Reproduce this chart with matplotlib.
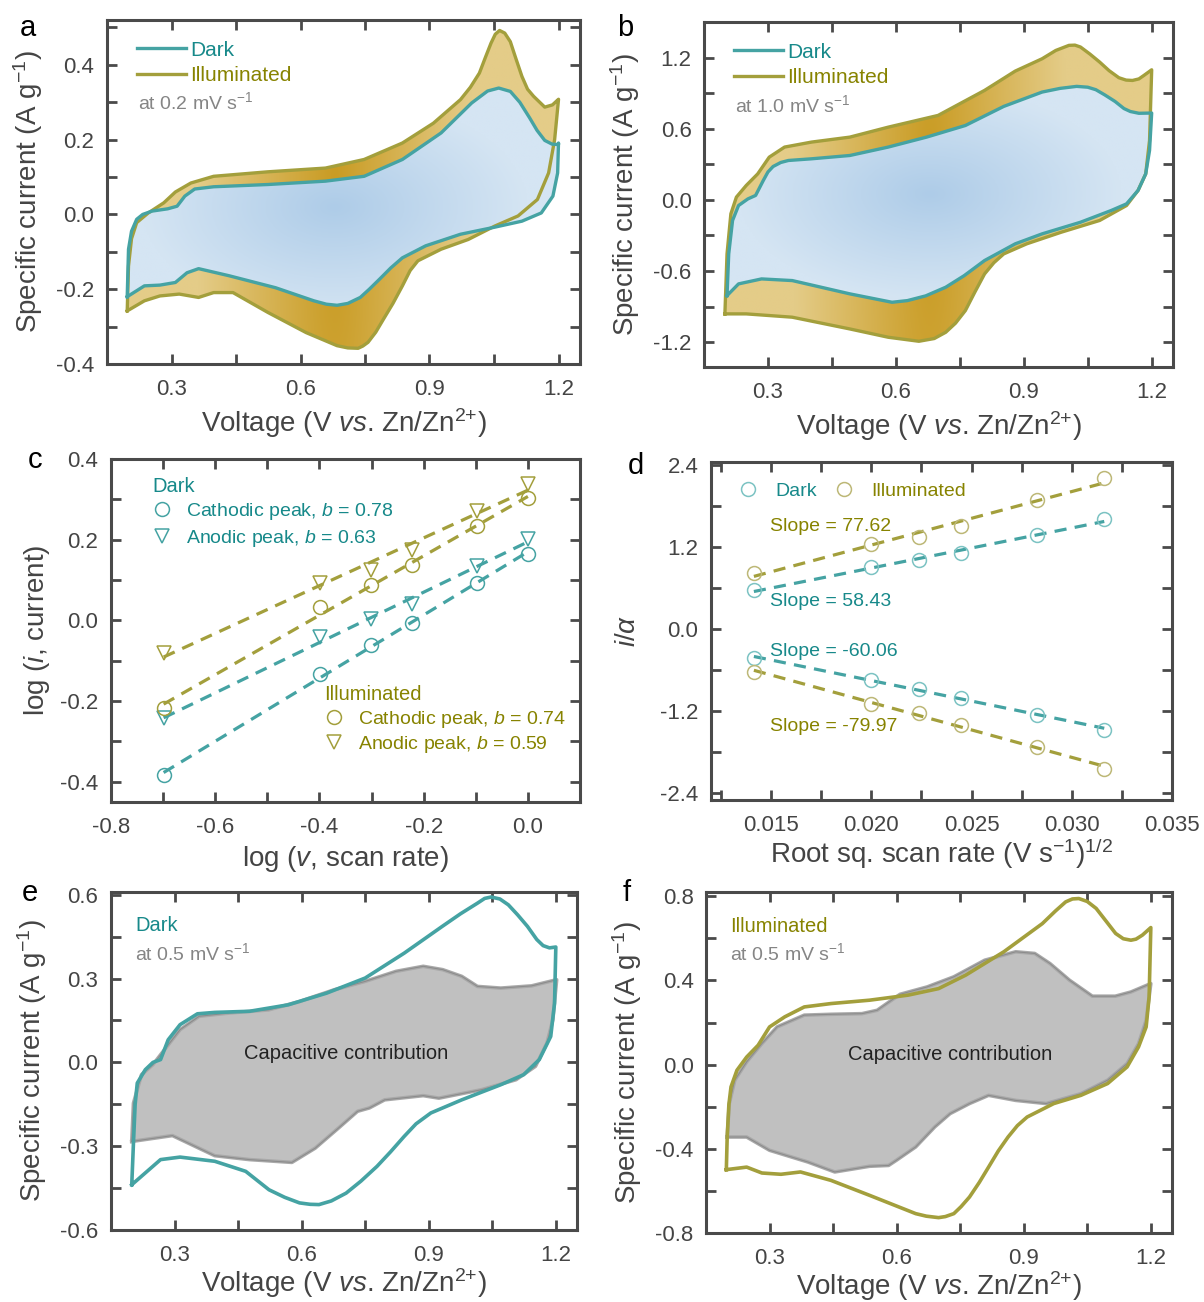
import numpy as np
import matplotlib
matplotlib.use('Agg')
import matplotlib.pyplot as plt
from matplotlib.patches import Polygon
from matplotlib.colors import LinearSegmentedColormap
from matplotlib.ticker import MultipleLocator, FormatStrFormatter
from matplotlib.lines import Line2D

plt.rcParams['font.family'] = ['Liberation Sans', 'DejaVu Sans']
plt.rcParams['mathtext.fontset'] = 'custom'
plt.rcParams['mathtext.rm'] = 'Liberation Sans'
plt.rcParams['mathtext.it'] = 'Liberation Sans:italic'
plt.rcParams['mathtext.bf'] = 'Liberation Sans:bold'
plt.rcParams['mathtext.sf'] = 'Liberation Sans'
plt.rcParams['axes.unicode_minus'] = False

TEAL = '#45a3a3'
TEAL_TXT = '#17898a'
OLIVE = '#a39f3c'
OLIVE_TXT = '#878300'
GRAY_TXT = '#858585'
AXC = '#4a4a4a'

# ---- panel a: CV at 0.2 mV/s (V, A/g) ----
a_dark_up = [(0.197, -0.22), (0.200, -0.093), (0.207, -0.045), (0.219, -0.013), (0.233, 0.0),
             (0.255, 0.009), (0.291, 0.015), (0.313, 0.022), (0.331, 0.049), (0.354, 0.068),
             (0.398, 0.074), (0.524, 0.080), (0.658, 0.089), (0.748, 0.102), (0.837, 0.147),
             (0.927, 0.218), (0.998, 0.298), (1.035, 0.330), (1.061, 0.338), (1.088, 0.329),
             (1.110, 0.300), (1.133, 0.258), (1.150, 0.225), (1.168, 0.198), (1.185, 0.188),
             (1.200, 0.187)]
a_dark_dn = [(1.200, 0.191), (1.198, 0.111), (1.187, 0.049), (1.160, 0.004), (1.115, -0.018),
             (1.052, -0.034), (0.972, -0.053), (0.891, -0.084), (0.837, -0.116), (0.810, -0.143),
             (0.784, -0.173), (0.760, -0.200), (0.739, -0.222), (0.710, -0.238), (0.685, -0.243),
             (0.660, -0.240), (0.631, -0.231), (0.542, -0.196), (0.434, -0.164), (0.363, -0.145),
             (0.336, -0.156), (0.309, -0.182), (0.273, -0.189), (0.237, -0.191), (0.197, -0.22)]
a_illum_up = [(0.197, -0.258), (0.200, -0.138), (0.207, -0.065), (0.219, -0.022), (0.246, 0.004),
              (0.282, 0.031), (0.309, 0.060), (0.345, 0.084), (0.398, 0.102), (0.524, 0.114),
              (0.658, 0.124), (0.748, 0.147), (0.837, 0.191), (0.909, 0.244), (0.972, 0.307),
              (0.995, 0.340), (1.016, 0.378), (1.030, 0.420), (1.043, 0.458), (1.053, 0.482),
              (1.063, 0.492), (1.075, 0.485), (1.088, 0.462), (1.100, 0.420), (1.115, 0.369),
              (1.128, 0.335), (1.142, 0.316), (1.168, 0.287), (1.186, 0.293), (1.200, 0.308)]
a_illum_dn = [(1.200, 0.307), (1.191, 0.200), (1.177, 0.111), (1.151, 0.040), (1.106, -0.004),
              (1.052, -0.031), (0.990, -0.067), (0.927, -0.093), (0.873, -0.124), (0.855, -0.150),
              (0.837, -0.191), (0.815, -0.238), (0.793, -0.280), (0.775, -0.315), (0.757, -0.342),
              (0.745, -0.352), (0.734, -0.358), (0.710, -0.357), (0.685, -0.351), (0.613, -0.316),
              (0.524, -0.262), (0.443, -0.209), (0.398, -0.209), (0.363, -0.222), (0.318, -0.213),
              (0.273, -0.218), (0.237, -0.231), (0.197, -0.258)]

# ---- panel b: CV at 1.0 mV/s ----
b_dark_up = [(0.204, -0.808), (0.208, -0.456), (0.217, -0.174), (0.231, -0.048), (0.253, 0.008),
             (0.271, 0.037), (0.289, 0.163), (0.300, 0.235), (0.312, 0.281), (0.330, 0.315),
             (0.348, 0.332), (0.402, 0.346), (0.492, 0.374), (0.582, 0.445), (0.672, 0.529),
             (0.763, 0.627), (0.853, 0.788), (0.943, 0.909), (0.985, 0.940), (1.024, 0.957),
             (1.050, 0.950), (1.069, 0.929), (1.090, 0.885), (1.114, 0.830), (1.135, 0.770),
             (1.150, 0.745), (1.170, 0.730), (1.200, 0.732)]
b_dark_dn = [(1.200, 0.732), (1.195, 0.416), (1.186, 0.219), (1.168, 0.079), (1.141, -0.034),
             (1.105, -0.090), (1.033, -0.189), (0.943, -0.287), (0.880, -0.371), (0.808, -0.512),
             (0.760, -0.640), (0.717, -0.737), (0.670, -0.810), (0.627, -0.850), (0.591, -0.864),
             (0.492, -0.793), (0.357, -0.681), (0.285, -0.667), (0.231, -0.709), (0.204, -0.808)]
b_illum_up = [(0.199, -0.962), (0.204, -0.456), (0.213, -0.118), (0.226, 0.023), (0.249, 0.121),
              (0.276, 0.219), (0.303, 0.360), (0.339, 0.445), (0.402, 0.487), (0.492, 0.529),
              (0.582, 0.613), (0.699, 0.712), (0.808, 0.923), (0.880, 1.086), (0.943, 1.190),
              (0.975, 1.260), (1.006, 1.303), (1.020, 1.305), (1.033, 1.289), (1.055, 1.230),
              (1.078, 1.162), (1.100, 1.090), (1.123, 1.030), (1.140, 1.010), (1.155, 1.007),
              (1.170, 1.020), (1.182, 1.050), (1.200, 1.097)]
b_illum_dn = [(1.200, 1.092), (1.195, 0.501), (1.186, 0.219), (1.168, 0.079), (1.141, -0.048),
              (1.078, -0.174), (0.988, -0.273), (0.907, -0.371), (0.853, -0.456), (0.830, -0.530),
              (0.808, -0.625), (0.785, -0.780), (0.763, -0.934), (0.740, -1.040), (0.717, -1.117),
              (0.690, -1.170), (0.654, -1.193), (0.582, -1.159), (0.492, -1.089), (0.357, -0.990),
              (0.249, -0.962), (0.199, -0.962)]

# ---- panel c: log(i) vs log(v) ----
c_logv = [-0.699, -0.398, -0.301, -0.222, -0.097, 0.0]
c_dark_cat = [-0.384, -0.132, -0.060, -0.006, 0.093, 0.165]
c_dark_ano = [-0.242, -0.041, 0.003, 0.041, 0.134, 0.202]
c_illum_cat = [-0.217, 0.033, 0.088, 0.138, 0.233, 0.304]
c_illum_ano = [-0.081, 0.093, 0.126, 0.174, 0.270, 0.339]
c_labels = ['Cathodic peak, $b$ = 0.78', 'Anodic peak, $b$ = 0.63',
            'Cathodic peak, $b$ = 0.74', 'Anodic peak, $b$ = 0.59']

# ---- panel d: i/alpha vs sqrt(v) ----
d_rootv = [0.01414, 0.02, 0.02236, 0.02449, 0.02828, 0.03162]
d_dark_up = [0.58, 0.91, 1.01, 1.11, 1.38, 1.62]
d_illum_up = [0.83, 1.25, 1.35, 1.51, 1.89, 2.21]
d_dark_dn = [-0.42, -0.74, -0.88, -1.00, -1.25, -1.47]
d_illum_dn = [-0.62, -1.09, -1.23, -1.40, -1.73, -2.04]
d_slopes = ['Slope = 77.62', 'Slope = 58.43', 'Slope = -60.06', 'Slope = -79.97']

# ---- panel e: dark 0.5 mV/s + capacitive part ----
e_cv_up = [(0.199, -0.438), (0.203, -0.289), (0.207, -0.150), (0.212, -0.074), (0.231, -0.026),
           (0.249, 0.0), (0.267, 0.010), (0.285, 0.081), (0.313, 0.135), (0.354, 0.174),
           (0.395, 0.179), (0.477, 0.183), (0.568, 0.206), (0.659, 0.248), (0.750, 0.302),
           (0.842, 0.391), (0.932, 0.487), (0.975, 0.532), (1.015, 0.570), (1.032, 0.587),
           (1.047, 0.592), (1.068, 0.585), (1.088, 0.564), (1.110, 0.528), (1.133, 0.487),
           (1.155, 0.440), (1.170, 0.418), (1.185, 0.410), (1.200, 0.413)]
e_cv_dn = [(1.200, 0.413), (1.197, 0.212), (1.188, 0.093), (1.161, 0.010), (1.124, -0.044),
           (1.070, -0.080), (0.978, -0.134), (0.905, -0.181), (0.870, -0.220), (0.842, -0.265),
           (0.810, -0.320), (0.778, -0.372), (0.740, -0.425), (0.705, -0.468), (0.670, -0.496),
           (0.641, -0.509), (0.620, -0.508), (0.595, -0.503), (0.560, -0.483), (0.523, -0.456),
           (0.468, -0.390), (0.395, -0.354), (0.313, -0.339), (0.267, -0.348), (0.199, -0.438)]
e_cap = [(0.199, -0.283), (0.203, -0.146), (0.222, -0.044), (0.249, -0.008), (0.276, 0.045),
         (0.313, 0.117), (0.358, 0.165), (0.431, 0.177), (0.522, 0.188), (0.595, 0.218),
         (0.677, 0.260), (0.750, 0.290), (0.823, 0.326), (0.887, 0.344), (0.933, 0.332),
         (0.978, 0.308), (1.015, 0.272), (1.070, 0.266), (1.143, 0.274), (1.202, 0.296),
         (1.193, 0.153), (1.179, 0.069), (1.152, -0.014), (1.106, -0.062), (1.024, -0.098),
         (0.924, -0.128), (0.887, -0.119), (0.796, -0.134), (0.760, -0.163), (0.732, -0.175),
         (0.687, -0.235), (0.632, -0.307), (0.577, -0.358), (0.477, -0.348), (0.395, -0.334),
         (0.295, -0.262), (0.199, -0.283)]

# ---- panel f: illuminated 0.5 mV/s + capacitive part ----
f_cv_up = [(0.198, -0.499), (0.200, -0.344), (0.204, -0.190), (0.209, -0.106), (0.223, -0.027),
           (0.246, 0.036), (0.273, 0.092), (0.300, 0.179), (0.336, 0.227), (0.382, 0.274),
           (0.445, 0.290), (0.536, 0.306), (0.627, 0.330), (0.699, 0.361), (0.763, 0.425),
           (0.853, 0.536), (0.944, 0.670), (0.975, 0.730), (0.999, 0.773), (1.015, 0.787),
           (1.030, 0.789), (1.050, 0.775), (1.071, 0.742), (1.095, 0.680), (1.117, 0.623),
           (1.135, 0.598), (1.153, 0.591), (1.165, 0.596), (1.180, 0.615), (1.200, 0.651)]
f_cv_dn = [(1.200, 0.651), (1.196, 0.322), (1.189, 0.179), (1.171, 0.084), (1.144, -0.011),
           (1.098, -0.090), (1.035, -0.146), (0.971, -0.185), (0.908, -0.249), (0.885, -0.290),
           (0.863, -0.344), (0.840, -0.410), (0.817, -0.487), (0.795, -0.560), (0.772, -0.629),
           (0.752, -0.675), (0.735, -0.708), (0.715, -0.722), (0.699, -0.727), (0.670, -0.720),
           (0.645, -0.708), (0.536, -0.621), (0.445, -0.550), (0.373, -0.510), (0.327, -0.521),
           (0.282, -0.515), (0.246, -0.487), (0.198, -0.499)]
f_cap = [(0.200, -0.344), (0.205, -0.185), (0.218, -0.074), (0.246, 0.013), (0.282, 0.100),
         (0.318, 0.179), (0.382, 0.235), (0.445, 0.239), (0.518, 0.242), (0.554, 0.258),
         (0.608, 0.334), (0.672, 0.369), (0.735, 0.417), (0.808, 0.496), (0.881, 0.536),
         (0.926, 0.528), (0.962, 0.480), (1.008, 0.401), (1.062, 0.325), (1.116, 0.325),
         (1.153, 0.345), (1.200, 0.385), (1.189, 0.211), (1.171, 0.100), (1.144, 0.005),
         (1.098, -0.074), (1.035, -0.138), (0.953, -0.185), (0.881, -0.170), (0.817, -0.146),
         (0.772, -0.185), (0.726, -0.233), (0.690, -0.296), (0.645, -0.391), (0.599, -0.455),
         (0.581, -0.479), (0.536, -0.483), (0.454, -0.510), (0.391, -0.463), (0.300, -0.407),
         (0.246, -0.344), (0.200, -0.344)]

W, H = 1204, 1302
fig = plt.figure(figsize=(W / 100, H / 100), dpi=100)

XLAB_CV = 'Voltage (V $\\mathit{vs}$. Zn/Zn$^{2{+}}$)'
YLAB_CV = 'Specific current (A g$^{-1}$)'


def make_ax(l, r, t, b):
    return fig.add_axes([l / W, 1 - b / H, (r - l) / W, (b - t) / H])


def style(ax, xlim, ylim, xmaj, xmin, ymaj, ymin, xfmt, yfmt):
    ax.set_xlim(*xlim)
    ax.set_ylim(*ylim)
    ax.xaxis.set_major_locator(MultipleLocator(xmaj))
    ax.xaxis.set_minor_locator(MultipleLocator(xmin))
    ax.yaxis.set_major_locator(MultipleLocator(ymaj))
    ax.yaxis.set_minor_locator(MultipleLocator(ymin))
    ax.xaxis.set_major_formatter(FormatStrFormatter(xfmt))
    ax.yaxis.set_major_formatter(FormatStrFormatter(yfmt))
    for s in ax.spines.values():
        s.set_linewidth(2.2)
        s.set_color(AXC)
    ax.tick_params(which='both', direction='in', top=True, right=True, width=2,
                   length=7, color=AXC, labelcolor='#444444', labelsize=16)
    ax.tick_params(axis='x', pad=11)
    ax.tick_params(axis='y', pad=9)


def grad_fill(ax, pts, colors, cx, cy, sx, sy, z):
    pts = np.asarray(pts)
    poly = Polygon(pts, closed=True, facecolor='none', edgecolor='none')
    ax.add_patch(poly)
    x0, x1 = ax.get_xlim()
    y0, y1 = ax.get_ylim()
    gx, gy = np.meshgrid(np.linspace(x0, x1, 300), np.linspace(y0, y1, 300))
    r = np.sqrt(((gx - cx) / sx) ** 2 + ((gy - cy) / sy) ** 2)
    cmap = LinearSegmentedColormap.from_list('g', colors)
    im = ax.imshow(np.clip(r, 0, 1), extent=[x0, x1, y0, y1], origin='lower', cmap=cmap,
                   aspect='auto', vmin=0, vmax=1, zorder=z, interpolation='bilinear')
    im.set_clip_path(poly)


def cv_label(ax, xpad=6):
    ax.set_xlabel(XLAB_CV, fontsize=20, color='#444444', labelpad=xpad)
    ax.set_ylabel(YLAB_CV, fontsize=20, color='#444444', labelpad=8)


BLUE = ['#aecce8', '#d5e5f3']
GOLD = ['#c99b22', '#e4cc88']


def cv_pair(ax, dark_up, dark_dn, ill_up, ill_dn, ylim, ymaj, ymin, cy, sy, rate):
    style(ax, (0.15, 1.25), ylim, 0.3, 0.15, ymaj, ymin, '%.1f', '%.1f')
    dk = np.array(dark_up + dark_dn)
    il = np.array(ill_up + ill_dn)
    grad_fill(ax, il, GOLD, 0.68, cy, 0.32, 10 * sy, 1)
    grad_fill(ax, dk, BLUE, 0.68, cy, 0.45, sy, 2)
    ax.set_xlim(0.15, 1.25)
    ax.set_ylim(*ylim)
    l1, = ax.plot(dk[:, 0], dk[:, 1], color=TEAL, lw=2.4, zorder=4, solid_joinstyle='round', label='Dark')
    l2, = ax.plot(il[:, 0], il[:, 1], color=OLIVE, lw=2.4, zorder=3, solid_joinstyle='round', label='Illuminated')
    ax.legend(handles=[l1, l2], loc='upper left', bbox_to_anchor=(0.064, 0.94), frameon=False,
              fontsize=15, handlelength=2.35, handletextpad=0.2, labelspacing=0.32,
              borderpad=0, borderaxespad=0, labelcolor=[TEAL_TXT, OLIVE_TXT])
    ax.text(0.066, 0.76, 'at %s mV s$^{-1}$' % rate, transform=ax.transAxes, fontsize=14,
            color=GRAY_TXT, va='center', ha='left')
    cv_label(ax, xpad=4)


# panel a
ax_a = make_ax(107, 580, 20, 364)
cv_pair(ax_a, a_dark_up, a_dark_dn, a_illum_up, a_illum_dn, (-0.4, 0.52), 0.2, 0.1, 0.02, 0.3, '0.2')

# panel b
ax_b = make_ax(704, 1173, 22, 367)
cv_pair(ax_b, b_dark_up, b_dark_dn, b_illum_up, b_illum_dn, (-1.41, 1.5), 0.6, 0.3, 0.05, 0.9, '1.0')

# panel c
ax_c = make_ax(111, 580, 459, 802)
style(ax_c, (-0.8, 0.1), (-0.45, 0.4), 0.2, 0.1, 0.2, 0.1, '%.1f', '%.1f')
c_series = [(c_dark_cat, 'o', TEAL), (c_dark_ano, 'v', TEAL),
            (c_illum_cat, 'o', OLIVE), (c_illum_ano, 'v', OLIVE)]
handles = []
for vals, mk, col in c_series:
    k, b0 = np.polyfit(c_logv, vals, 1)
    xx = np.array([c_logv[0], c_logv[-1]])
    ax_c.plot(xx, k * xx + b0, color=col, lw=2.3, dashes=(3.8, 2.6), zorder=2)
    ax_c.plot(c_logv, vals, ls='none', marker=mk, ms=10, mfc='none', mec=col, mew=1.1, zorder=3)
    handles.append(Line2D([], [], ls='none', marker=mk, ms=10, mfc='none', mec=col, mew=1.1))
leg1 = ax_c.legend(handles[:2], c_labels[:2], title='Dark', alignment='left', loc='upper left',
                   bbox_to_anchor=(0.088, 0.948), frameon=False, fontsize=14, title_fontsize=14.5,
                   labelcolor=TEAL_TXT, handlelength=1.0, handletextpad=0.75, borderpad=0,
                   borderaxespad=0, labelspacing=0.28)
leg1.get_title().set_color(TEAL_TXT)
ax_c.add_artist(leg1)
leg2 = ax_c.legend(handles[2:], c_labels[2:], title='Illuminated', alignment='left', loc='upper left',
                   bbox_to_anchor=(0.455, 0.34), frameon=False, fontsize=14, title_fontsize=14.5,
                   labelcolor=OLIVE_TXT, handlelength=1.0, handletextpad=0.75, borderpad=0,
                   borderaxespad=0, labelspacing=0.22)
leg2.get_title().set_color(OLIVE_TXT)
ax_c.set_xlabel('log ($\\mathit{v}$, scan rate)', fontsize=20, color='#444444', labelpad=4)
ax_c.set_ylabel('log ($\\mathit{i}$, current)', fontsize=20, color='#444444', labelpad=6)

# panel d
ax_d = make_ax(711, 1172, 462, 800)
style(ax_d, (0.012, 0.035), (-2.5, 2.45), 0.005, 0.0025, 1.2, 0.6, '%.3f', '%.1f')
d_series = [(d_illum_up, OLIVE, '#bdb877'), (d_dark_up, TEAL, '#7cc3c3'),
            (d_dark_dn, TEAL, '#7cc3c3'), (d_illum_dn, OLIVE, '#bdb877')]
for vals, col, mcol in d_series:
    k, b0 = np.polyfit(d_rootv, vals, 1)
    xx = np.array([d_rootv[0], d_rootv[-1]])
    ax_d.plot(xx, k * xx + b0, color=col, lw=2.3, dashes=(3.8, 2.6), zorder=2)
    ax_d.plot(d_rootv, vals, ls='none', marker='o', ms=10, mfc='none', mec=mcol, mew=1.1, zorder=3)
hd = [Line2D([], [], ls='none', marker='o', ms=10, mfc='none', mec='#7cc3c3', mew=1.1),
      Line2D([], [], ls='none', marker='o', ms=10, mfc='none', mec='#bdb877', mew=1.1)]
ax_d.legend(hd, ['Dark', 'Illuminated'], ncol=2, loc='upper left', bbox_to_anchor=(0.06, 0.94),
            frameon=False, fontsize=14, labelcolor=[TEAL_TXT, OLIVE_TXT], handlelength=1.0,
            handletextpad=0.9, columnspacing=0.9, borderpad=0, borderaxespad=0)
slope_pos = [0.808, 0.586, 0.438, 0.216]
slope_col = [OLIVE_TXT, TEAL_TXT, TEAL_TXT, OLIVE_TXT]
for txt, yy, col in zip(d_slopes, slope_pos, slope_col):
    ax_d.text(0.128, yy, txt, transform=ax_d.transAxes, fontsize=14, color=col, va='center')
ax_d.set_xlabel('Root sq. scan rate (V s$^{-1}$)$^{1/2}$', fontsize=20, color='#444444', labelpad=0)
ax_d.set_ylabel('$i/\\alpha$', fontsize=20, color='#444444', labelpad=14)


def cap_panel(ax, up, dn, cap, ylim, ymaj, ymin, col, name, namecol, tx):
    style(ax, (0.15, 1.25), ylim, 0.3, 0.15, ymaj, ymin, '%.1f', '%.1f')
    cp = np.array(cap)
    ax.fill(cp[:, 0], cp[:, 1], color='#c0c0c0', zorder=1, lw=0)
    ax.plot(cp[:, 0], cp[:, 1], color='#a9a9a9', lw=2.6, zorder=2)
    ax.plot(cp[:, 0], cp[:, 1], color='#8c8c8c', lw=0.8, zorder=2)
    cv = np.array(up + dn)
    ax.plot(cv[:, 0], cv[:, 1], color=col, lw=2.6, zorder=3, solid_joinstyle='round')
    ax.text(0.052, 0.9, name, transform=ax.transAxes, fontsize=14.5, color=namecol, va='center')
    ax.text(0.052, 0.82, 'at 0.5 mV s$^{-1}$', transform=ax.transAxes, fontsize=14,
            color=GRAY_TXT, va='center')
    ax.text(tx, 0.523, 'Capacitive contribution', transform=ax.transAxes, fontsize=14.5,
            color='#222222', va='center', ha='center')
    cv_label(ax, xpad=0)


ax_e = make_ax(111, 577, 892, 1230)
cap_panel(ax_e, e_cv_up, e_cv_dn, e_cap, (-0.6, 0.61), 0.3, 0.15, TEAL, 'Dark', TEAL_TXT, 0.504)

ax_f = make_ax(706, 1172, 892, 1233)
cap_panel(ax_f, f_cv_up, f_cv_dn, f_cap, (-0.8, 0.82), 0.4, 0.2, OLIVE, 'Illuminated', OLIVE_TXT, 0.524)

for letter, px, py in [('a', 28, 28), ('b', 625, 28), ('c', 35, 460),
                       ('d', 636, 466), ('e', 30, 893), ('f', 627, 893)]:
    fig.text(px / W, 1 - py / H, letter, fontsize=21, color='black', ha='center', va='center')

fig.savefig('out.png', dpi=100)
